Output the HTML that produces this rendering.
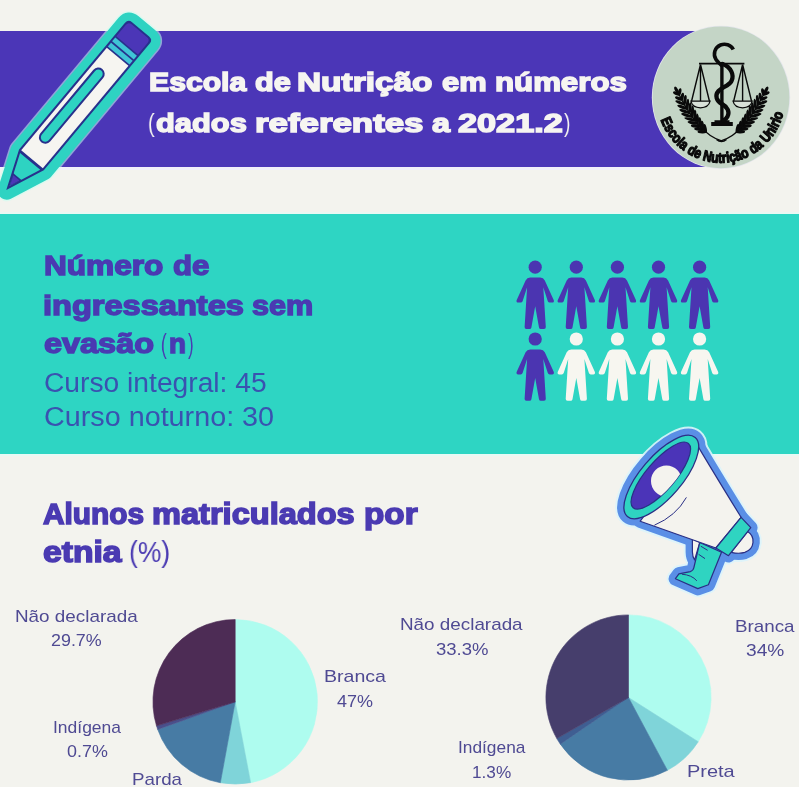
<!DOCTYPE html>
<html lang="pt">
<head>
<meta charset="utf-8">
<title>Escola de Nutrição em números</title>
<style>
html,body{margin:0;padding:0;}
body{width:799px;height:787px;overflow:hidden;background:#f3f3ee;font-family:"Liberation Sans",sans-serif;position:relative;}
.abs{position:absolute;}
#banner{left:0;top:31px;width:730px;height:136px;background:#4b36b7;}
#teal{left:0;top:214px;width:799px;height:240px;background:#2ed5c3;}
.t{position:absolute;white-space:nowrap;line-height:1;transform-origin:0 0;will-change:transform;}
.h{font-weight:bold;-webkit-text-stroke:1.5px currentColor;paint-order:stroke fill;}
.w{color:#f6f5f1;}
.p{color:#4a3ab2;}
.l{color:#4f4a93;}
.thin{font-weight:normal;}
.c{color:#3a52b0;}
svg{position:absolute;left:0;top:0;will-change:transform;}
</style>
</head>
<body>
<div id="banner" class="abs"></div>
<div id="teal" class="abs"></div>
<div class="abs" style="left:0;top:167px;width:652px;height:3px;background:#f1effa;"></div>
<div class="abs" style="left:0;top:212px;width:799px;height:2px;background:#eaf8f3;"></div>
<div class="abs" style="left:0;top:454px;width:799px;height:2px;background:#e7f9f4;"></div>

<svg id="art" width="799" height="787" viewBox="0 0 799 787">
<!--PIES-->
<g id="pies">
<path d="M235.2,701.8 L235.20,619.50 A82.3,82.3 0 0 1 250.62,782.64 Z" fill="#aefcef" stroke="#aefcef" stroke-width="0.6"/>
<path d="M235.2,701.8 L250.62,782.64 A82.3,82.3 0 0 1 220.34,782.75 Z" fill="#7fd4d9" stroke="#7fd4d9" stroke-width="0.6"/>
<path d="M235.2,701.8 L220.34,782.75 A82.3,82.3 0 0 1 157.67,729.41 Z" fill="#477ba4" stroke="#477ba4" stroke-width="0.6"/>
<path d="M235.2,701.8 L157.67,729.41 A82.3,82.3 0 0 1 156.50,725.86 Z" fill="#4a4f8a" stroke="#4a4f8a" stroke-width="0.6"/>
<path d="M235.2,701.8 L156.50,725.86 A82.3,82.3 0 0 1 235.20,619.50 Z" fill="#4d2c55" stroke="#4d2c55" stroke-width="0.6"/>
<path d="M628.5,697.5 L628.50,614.90 A82.6,82.6 0 0 1 698.24,741.76 Z" fill="#aefcef" stroke="#aefcef" stroke-width="0.6"/>
<path d="M628.5,697.5 L698.24,741.76 A82.6,82.6 0 0 1 667.41,770.36 Z" fill="#7fd4d9" stroke="#7fd4d9" stroke-width="0.6"/>
<path d="M628.5,697.5 L667.41,770.36 A82.6,82.6 0 0 1 560.35,744.17 Z" fill="#477ba4" stroke="#477ba4" stroke-width="0.6"/>
<path d="M628.5,697.5 L560.35,744.17 A82.6,82.6 0 0 1 556.82,738.55 Z" fill="#3f5e92" stroke="#3f5e92" stroke-width="0.6"/>
<path d="M628.5,697.5 L556.82,738.55 A82.6,82.6 0 0 1 628.50,614.90 Z" fill="#463e6c" stroke="#463e6c" stroke-width="0.6"/>
</g>
<g id="people">
<defs><g id="pp"><circle cx="0" cy="0" r="6.6"/><path d="M-5,10.4 Q-8.2,10.4 -9.6,13.2 L-18.6,33 Q-19.2,35.4 -17,35.4 L-14.4,35.4 Q-13.2,35.4 -12.6,34 L-8.1,20 L-10.6,59.8 Q-10.7,61.8 -8.8,61.8 L-5.6,61.8 Q-4.1,61.8 -3.8,60.2 L0,39 L3.8,60.2 Q4.1,61.8 5.6,61.8 L8.8,61.8 Q10.7,61.8 10.6,59.8 L8.1,20 L12.6,34 Q13.2,35.4 14.4,35.4 L17,35.4 Q19.2,35.4 18.6,33 L9.6,13.2 Q8.2,10.4 5,10.4 Z"/></g></defs>
<use href="#pp" x="535.2" y="267.2" fill="#4b35b1"/>
<use href="#pp" x="576.3" y="267.2" fill="#4b35b1"/>
<use href="#pp" x="617.4" y="267.2" fill="#4b35b1"/>
<use href="#pp" x="658.5" y="267.2" fill="#4b35b1"/>
<use href="#pp" x="699.6" y="267.2" fill="#4b35b1"/>
<use href="#pp" x="535.2" y="339.0" fill="#4b35b1"/>
<use href="#pp" x="576.3" y="339.0" fill="#f7f6f0"/>
<use href="#pp" x="617.4" y="339.0" fill="#f7f6f0"/>
<use href="#pp" x="658.5" y="339.0" fill="#f7f6f0"/>
<use href="#pp" x="699.6" y="339.0" fill="#f7f6f0"/>
</g>
<!--/PIES-->
<!--LOGO-->
<ellipse cx="721.0" cy="97.3" rx="69.2" ry="71.6" fill="#e4e6ec"/>
<ellipse cx="721.0" cy="97.3" rx="68.4" ry="70.9" fill="#c4d5c6"/>
<path d="M699,63.6 H744.4" stroke="#0a0a0a" stroke-width="1.8" fill="none"/>
<path d="M721.9,62 V122" stroke="#0a0a0a" stroke-width="3.4" fill="none"/>
<path d="M714.5,120.3 H729.5 V122 H732.8 V125.9 H711.2 V122 H714.5 Z" fill="#0a0a0a"/>
<path d="M733.3,49.6 C731,44.5 725,43.2 720.5,45 C714.5,47.5 712.8,54.5 716,59.5 C717.5,62 720,63.5 721.8,66" stroke="#0a0a0a" stroke-width="3.6" fill="none" stroke-linecap="butt"/>
<path d="M722.5,64 C731,67 734.5,75 731.5,81 C729,86 722,87 718.5,91 C714.5,95.5 716.5,101 722,104 C727.5,107 730,112 727.5,116.5 C726.5,118.5 724.8,119.8 723.5,120.5" stroke="#0a0a0a" stroke-width="4.3" fill="none" stroke-linecap="round"/>
<path d="M700.5,64.5 L691.6,101 M700.5,64.5 L709.4,101 M700.5,64.5 V101" stroke="#0a0a0a" stroke-width="1.4" fill="none"/>
<path d="M690.9,101.2 H710.1 C709.0,105.8 705.0,107.8 700.5,107.8 C696.0,107.8 692.0,105.8 690.9,101.2 Z" fill="#d9e2d9" stroke="#0a0a0a" stroke-width="1.2"/>
<path d="M742.6,64.5 L733.7,101 M742.6,64.5 L751.5,101 M742.6,64.5 V101" stroke="#0a0a0a" stroke-width="1.4" fill="none"/>
<path d="M733.0,101.2 H752.2 C751.1,105.8 747.1,107.8 742.6,107.8 C738.1,107.8 734.1,105.8 733.0,101.2 Z" fill="#d9e2d9" stroke="#0a0a0a" stroke-width="1.2"/>
<g id="laurelL"><path d="M721.6,140.9 Q698,134 677.5,91.5" stroke="#0a0a0a" stroke-width="1.3" fill="none"/>
<ellipse cx="702.20" cy="131.95" rx="4.64" ry="1.6" transform="rotate(-177.9 702.20 131.95)" fill="#0a0a0a"/>
<ellipse cx="705.15" cy="128.46" rx="4.64" ry="1.6" transform="rotate(-101.9 705.15 128.46)" fill="#0a0a0a"/>
<ellipse cx="699.15" cy="129.22" rx="4.99" ry="1.6" transform="rotate(-174.5 699.15 129.22)" fill="#0a0a0a"/>
<ellipse cx="702.54" cy="125.65" rx="4.99" ry="1.6" transform="rotate(-98.5 702.54 125.65)" fill="#0a0a0a"/>
<ellipse cx="696.14" cy="126.19" rx="5.34" ry="1.6" transform="rotate(-171.4 696.14 126.19)" fill="#0a0a0a"/>
<ellipse cx="699.96" cy="122.58" rx="5.34" ry="1.6" transform="rotate(-95.4 699.96 122.58)" fill="#0a0a0a"/>
<ellipse cx="693.16" cy="122.89" rx="5.70" ry="1.6" transform="rotate(-168.6 693.16 122.89)" fill="#0a0a0a"/>
<ellipse cx="697.42" cy="119.24" rx="5.70" ry="1.6" transform="rotate(-92.6 697.42 119.24)" fill="#0a0a0a"/>
<ellipse cx="690.22" cy="119.31" rx="6.05" ry="1.6" transform="rotate(-166.0 690.22 119.31)" fill="#0a0a0a"/>
<ellipse cx="694.91" cy="115.64" rx="6.05" ry="1.6" transform="rotate(-90.0 694.91 115.64)" fill="#0a0a0a"/>
<ellipse cx="687.32" cy="115.45" rx="6.40" ry="1.6" transform="rotate(-163.7 687.32 115.45)" fill="#0a0a0a"/>
<ellipse cx="692.44" cy="111.77" rx="6.40" ry="1.6" transform="rotate(-87.7 692.44 111.77)" fill="#0a0a0a"/>
<ellipse cx="684.98" cy="111.50" rx="6.05" ry="1.6" transform="rotate(-161.6 684.98 111.50)" fill="#0a0a0a"/>
<ellipse cx="689.94" cy="108.20" rx="6.05" ry="1.6" transform="rotate(-85.6 689.94 108.20)" fill="#0a0a0a"/>
<ellipse cx="682.65" cy="107.30" rx="5.70" ry="1.6" transform="rotate(-159.6 682.65 107.30)" fill="#0a0a0a"/>
<ellipse cx="687.43" cy="104.36" rx="5.70" ry="1.6" transform="rotate(-83.6 687.43 104.36)" fill="#0a0a0a"/>
<ellipse cx="680.35" cy="102.87" rx="5.34" ry="1.6" transform="rotate(-157.8 680.35 102.87)" fill="#0a0a0a"/>
<ellipse cx="684.92" cy="100.25" rx="5.34" ry="1.6" transform="rotate(-81.8 684.92 100.25)" fill="#0a0a0a"/>
<ellipse cx="678.79" cy="98.51" rx="3.99" ry="1.6" transform="rotate(-156.2 678.79 98.51)" fill="#0a0a0a"/>
<ellipse cx="682.26" cy="96.65" rx="3.99" ry="1.6" transform="rotate(-80.2 682.26 96.65)" fill="#0a0a0a"/>
<ellipse cx="676.46" cy="93.57" rx="3.71" ry="1.6" transform="rotate(-154.7 676.46 93.57)" fill="#0a0a0a"/>
<ellipse cx="679.73" cy="91.93" rx="3.71" ry="1.6" transform="rotate(-78.7 679.73 91.93)" fill="#0a0a0a"/>
<ellipse cx="676.6" cy="90.2" rx="4" ry="1.6" transform="rotate(62 676.6 90.2)" fill="#0a0a0a"/></g>
<use href="#laurelL" transform="translate(1442.6 0) scale(-1 1)"/>
<path d="M716.5,139.5 Q721.5,143.5 726.5,139.5" stroke="#0a0a0a" stroke-width="1.6" fill="none"/>
<g font-family="Liberation Sans, sans-serif" font-weight="bold" font-size="14.6" fill="#0a0a0a" stroke="#0a0a0a" stroke-width="1.25" stroke-linejoin="round"><text transform="translate(662.16 123.49) rotate(66.4) scale(0.823 1)" text-anchor="middle">E</text><text transform="translate(665.48 130.18) rotate(59.9) scale(0.823 1)" text-anchor="middle">s</text><text transform="translate(669.13 135.88) rotate(53.9) scale(0.823 1)" text-anchor="middle">c</text><text transform="translate(673.56 141.42) rotate(47.6) scale(0.823 1)" text-anchor="middle">o</text><text transform="translate(677.32 145.29) rotate(42.9) scale(0.823 1)" text-anchor="middle">l</text><text transform="translate(681.12 148.61) rotate(38.4) scale(0.823 1)" text-anchor="middle">a</text><text transform="translate(689.71 154.48) rotate(29.2) scale(0.823 1)" text-anchor="middle">d</text><text transform="translate(696.01 157.62) rotate(22.9) scale(0.823 1)" text-anchor="middle">e</text><text transform="translate(706.47 161.09) rotate(13.1) scale(0.823 1)" text-anchor="middle">N</text><text transform="translate(714.37 162.43) rotate(5.9) scale(0.823 1)" text-anchor="middle">u</text><text transform="translate(720.03 162.78) rotate(0.9) scale(0.823 1)" text-anchor="middle">t</text><text transform="translate(724.36 162.69) rotate(-3.0) scale(0.823 1)" text-anchor="middle">r</text><text transform="translate(728.36 162.35) rotate(-6.6) scale(0.823 1)" text-anchor="middle">i</text><text transform="translate(733.31 161.57) rotate(-11.1) scale(0.823 1)" text-anchor="middle">ç</text><text transform="translate(739.79 159.92) rotate(-17.0) scale(0.823 1)" text-anchor="middle">ã</text><text transform="translate(746.37 157.46) rotate(-23.3) scale(0.823 1)" text-anchor="middle">o</text><text transform="translate(755.78 152.34) rotate(-32.8) scale(0.823 1)" text-anchor="middle">d</text><text transform="translate(761.45 148.15) rotate(-39.1) scale(0.823 1)" text-anchor="middle">a</text><text transform="translate(769.37 140.35) rotate(-48.9) scale(0.823 1)" text-anchor="middle">U</text><text transform="translate(774.25 133.88) rotate(-56.0) scale(0.823 1)" text-anchor="middle">n</text><text transform="translate(777.05 129.24) rotate(-60.8) scale(0.823 1)" text-anchor="middle">i</text><text transform="translate(778.89 125.61) rotate(-64.4) scale(0.823 1)" text-anchor="middle">r</text><text transform="translate(780.51 121.87) rotate(-68.0) scale(0.823 1)" text-anchor="middle">i</text><text transform="translate(782.30 116.75) rotate(-72.7) scale(0.823 1)" text-anchor="middle">o</text></g>
<!--/LOGO-->
<!--PENCIL-->
<g transform="translate(140.6 29.3) rotate(39.9)">
<g transform="translate(0.8 0.3)">
<path d="M-11.100000000000001,0 H11.100000000000001 Q16.1,0 16.1,5 V170.2 L0,209.4 L-16.1,170.2 V5 Q-16.1,0 -11.100000000000001,0 Z" fill="#c8fff2" stroke="#c8fff2" stroke-opacity="0.55" stroke-width="21" stroke-linejoin="round"/>
<path d="M-11.100000000000001,0 H11.100000000000001 Q16.1,0 16.1,5 V170.2 L0,209.4 L-16.1,170.2 V5 Q-16.1,0 -11.100000000000001,0 Z" fill="#2ed3c2" stroke="#2ed3c2" stroke-width="18" stroke-linejoin="round"/>
</g>
<path d="M-11.100000000000001,0 H11.100000000000001 Q16.1,0 16.1,5 V170.2 L0,209.4 L-16.1,170.2 V5 Q-16.1,0 -11.100000000000001,0 Z" fill="#27318c"/>
<path d="M-10.100000000000001,2.0 H10.100000000000001 Q14.100000000000001,2.0 14.100000000000001,6.0 V21 H-14.100000000000001 V6.0 Q-14.100000000000001,2.0 -10.100000000000001,2.0 Z" fill="#4b36b7"/>
<rect x="-14.100000000000001" y="22.6" width="28.200000000000003" height="4.9" fill="#3fc4d6"/>
<rect x="-14.100000000000001" y="29.2" width="28.200000000000003" height="4.9" fill="#3fc4d6"/>
<rect x="-14.100000000000001" y="35.8" width="28.200000000000003" height="133.49999999999997" fill="#f6f5f1"/>
<rect x="-10.2" y="55" width="12.8" height="95.5" rx="6.4" fill="#27318c"/>
<rect x="-8.2" y="57" width="8.8" height="91.5" rx="4.4" fill="#2ed3c2"/>
<path d="M-13.12,172.20 H13.12 L0,204.14 Z" fill="#2ed3c2"/>
<path d="M-5.71,192.04 H5.71 L0,204.14 Z" fill="#27318c"/>
<path d="M-4.01,193.64 H4.01 L0,203.54 Z" fill="#4b36b7"/>
</g>
<!--/PENCIL-->
<!--MEGA-->
<defs><clipPath id="mclip"><ellipse cx="660.8" cy="475.6" rx="42.4" ry="14.4" transform="rotate(-49.3 660.8 475.6)" /></clipPath></defs>
<g fill="#dcf4fb" stroke="#dcf4fb" stroke-width="17.5" stroke-linejoin="round" opacity="0.9">
<path d="M697.0,444.6 Q712,470 741.1,517.3 L715.9,548 L640.2,521.2 Z"/>
<path d="M741.1,517.3 L750.8,527.7 L728.5,555.7 L715.9,548 Z"/>
<path d="M747.6,531.6 C755.5,536.5 755,549 744.8,552.4 C740,553.8 735,553.2 731.2,552.3 Z"/>
<path d="M699.8,542.4 L721.5,552.2 L708.4,584.8 L697.8,588.6 L675.4,578.7 L678.9,573.9 L690.3,571.6 Q693.4,570.6 693.9,567.5 Z"/>
<path d="M692.4,538.9 L699.8,542.4 L694.6,560 Q692.5,557 692.4,552 Z"/>
<ellipse cx="661.3" cy="477.0" rx="52.0" ry="20.6" transform="rotate(-49.3 661.3 477.0)" />
</g>
<g fill="#5a8fe6" stroke="#5a8fe6" stroke-width="13.6" stroke-linejoin="round" opacity="1">
<path d="M697.0,444.6 Q712,470 741.1,517.3 L715.9,548 L640.2,521.2 Z"/>
<path d="M741.1,517.3 L750.8,527.7 L728.5,555.7 L715.9,548 Z"/>
<path d="M747.6,531.6 C755.5,536.5 755,549 744.8,552.4 C740,553.8 735,553.2 731.2,552.3 Z"/>
<path d="M699.8,542.4 L721.5,552.2 L708.4,584.8 L697.8,588.6 L675.4,578.7 L678.9,573.9 L690.3,571.6 Q693.4,570.6 693.9,567.5 Z"/>
<path d="M692.4,538.9 L699.8,542.4 L694.6,560 Q692.5,557 692.4,552 Z"/>
<ellipse cx="661.3" cy="477.0" rx="52.0" ry="20.6" transform="rotate(-49.3 661.3 477.0)" />
</g>
<path d="M747.6,531.6 C755.5,536.5 755,549 744.8,552.4 C740,553.8 735,553.2 731.2,552.3 Z" fill="#f4f3ee" stroke="#2a2f85" stroke-width="1.2" stroke-linejoin="round"/>
<path d="M692.4,538.9 L699.8,542.4 L694.6,560 Q692.5,557 692.4,552 Z" fill="#f4f3ee" stroke="#2a2f85" stroke-width="1.2" stroke-linejoin="round"/>
<path d="M699.8,542.4 L721.5,552.2 L708.4,584.8 L697.8,588.6 L675.4,578.7 L678.9,573.9 L690.3,571.6 Q693.4,570.6 693.9,567.5 Z" fill="#2fd4c1" stroke="#2a2f85" stroke-width="1.2" stroke-linejoin="round"/>
<path d="M700.8,546.2 L707.6,550.3 M698.6,554.3 L705,558.6 M681.8,574.2 Q692,575 696.8,580.8" fill="none" stroke="#2a2f85" stroke-width="1"/>
<path d="M697.0,444.6 Q712,470 741.1,517.3 L715.9,548 L640.2,521.2 Z" fill="#f4f3ee" stroke="#2a2f85" stroke-width="1.2" stroke-linejoin="round"/>
<path d="M686.4,497.4 Q676,516 654.4,525.2" fill="none" stroke="#2a2f85" stroke-width="1"/>
<path d="M741.1,517.3 L750.8,527.7 L728.5,555.7 L715.9,548 Z" fill="#2fd4c1" stroke="#2a2f85" stroke-width="1.2" stroke-linejoin="round"/>
<ellipse cx="661.3" cy="477.0" rx="52.0" ry="20.6" transform="rotate(-49.3 661.3 477.0)" fill="#2fd4c1" stroke="#2a2f85" stroke-width="1.3"/>
<ellipse cx="660.8" cy="475.6" rx="42.4" ry="14.4" transform="rotate(-49.3 660.8 475.6)" fill="#4b34b8" stroke="#2a2f85" stroke-width="1.2"/>
<circle cx="666.4" cy="481.0" r="15.4" fill="#f4f3ee" clip-path="url(#mclip)"/>
<!--/MEGA-->
</svg>

<!--TS-->
<div class="t h w" id="t1_0" style="left:149.1px;top:69.4px;font-size:26.6px;transform:scaleX(1.1347);">Escola</div>
<div class="t h w" id="t1_1" style="left:254.5px;top:69.4px;font-size:26.6px;transform:scaleX(1.1531);">de</div>
<div class="t h w" id="t1_2" style="left:297.2px;top:69.4px;font-size:26.6px;transform:scaleX(1.2561);">Nutrição</div>
<div class="t h w" id="t1_3" style="left:441.8px;top:69.4px;font-size:26.6px;transform:scaleX(1.1603);">em</div>
<div class="t h w" id="t1_4" style="left:494.5px;top:69.4px;font-size:26.6px;transform:scaleX(1.1735);">números</div>
<div class="t w thin" id="t2_0" style="left:148.1px;top:109.8px;font-size:26.6px;transform:scaleX(0.7337);">(</div>
<div class="t h w" id="t2_1" style="left:155.6px;top:109.8px;font-size:26.6px;transform:scaleX(1.1592);">dados</div>
<div class="t h w" id="t2_2" style="left:254.5px;top:109.8px;font-size:26.6px;transform:scaleX(1.3102);">referentes</div>
<div class="t h w" id="t2_3" style="left:432.0px;top:109.8px;font-size:26.6px;transform:scaleX(1.2165);">a</div>
<div class="t h w" id="t2_4" style="left:458.1px;top:109.8px;font-size:26.6px;transform:scaleX(1.2884);">2021.2</div>
<div class="t w thin" id="t2_5" style="left:563.9px;top:109.8px;font-size:26.6px;transform:scaleX(0.7337);">)</div>
<div class="t h p" id="n1_0" style="left:43.9px;top:252.2px;font-size:28px;transform:scaleX(1.1286);">Número</div>
<div class="t h p" id="n1_1" style="left:172.7px;top:252.2px;font-size:28px;transform:scaleX(1.1136);">de</div>
<div class="t h p" id="n2_0" style="left:43.1px;top:291.6px;font-size:28px;transform:scaleX(1.1630);">ingressantes</div>
<div class="t h p" id="n2_1" style="left:252.3px;top:291.6px;font-size:28px;transform:scaleX(1.0919);">sem</div>
<div class="t h p" id="n3_0" style="left:43.9px;top:330.2px;font-size:28px;transform:scaleX(1.1583);">evasão</div>
<div class="t p thin" id="n3_1" style="left:161.4px;top:330.2px;font-size:28px;transform:scaleX(0.6111);">(</div>
<div class="t h p" id="n3_2" style="left:168.9px;top:330.2px;font-size:28px;transform:scaleX(0.9878);">n</div>
<div class="t p thin" id="n3_3" style="left:187.7px;top:330.2px;font-size:28px;transform:scaleX(0.6003);">)</div>
<div class="t h p" id="a1_0" style="left:42.5px;top:499.7px;font-size:29.2px;transform:scaleX(1.0220);">Alunos</div>
<div class="t h p" id="a1_1" style="left:151.7px;top:499.7px;font-size:29.2px;transform:scaleX(1.1157);">matriculados</div>
<div class="t h p" id="a1_2" style="left:364.4px;top:499.7px;font-size:29.2px;transform:scaleX(1.1397);">por</div>
<div class="t h p" id="a2_0" style="left:42.5px;top:538.1px;font-size:29.2px;transform:scaleX(1.1538);">etnia</div>
<div class="t p thin" id="a2_1" style="left:129.1px;top:538.1px;font-size:29.2px;transform:scaleX(0.9052);">(%)</div>
<div class="t p c" id="c1" style="left:43.9px;top:369.8px;font-size:27px;transform:scaleX(1.0449);">Curso integral: 45</div>
<div class="t p c" id="c2" style="left:43.9px;top:403.6px;font-size:27px;transform:scaleX(1.0646);">Curso noturno: 30</div>
<div class="t l" id="l1" style="left:15.0px;top:608.1px;font-size:17px;transform:scaleX(1.1096);">Não declarada</div>
<div class="t l" id="l2" style="left:51.3px;top:631.9px;font-size:17px;transform:scaleX(1.0518);">29.7%</div>
<div class="t l" id="l3" style="left:53.0px;top:718.8px;font-size:17px;transform:scaleX(1.0274);">Indígena</div>
<div class="t l" id="l4" style="left:66.8px;top:743.3px;font-size:17px;transform:scaleX(1.0529);">0.7%</div>
<div class="t l" id="l5" style="left:132.0px;top:770.8px;font-size:17px;transform:scaleX(1.1019);">Parda</div>
<div class="t l" id="l6" style="left:324.0px;top:668.3px;font-size:17px;transform:scaleX(1.1508);">Branca</div>
<div class="t l" id="l7" style="left:337.0px;top:693.4px;font-size:17px;transform:scaleX(1.0579);">47%</div>
<div class="t l" id="r1" style="left:400.0px;top:616.0px;font-size:17px;transform:scaleX(1.1087);">Não declarada</div>
<div class="t l" id="r2" style="left:436.0px;top:640.6px;font-size:17px;transform:scaleX(1.0891);">33.3%</div>
<div class="t l" id="r3" style="left:457.6px;top:739.2px;font-size:17px;transform:scaleX(1.0183);">Indígena</div>
<div class="t l" id="r4" style="left:471.8px;top:764.4px;font-size:17px;transform:scaleX(1.0116);">1.3%</div>
<div class="t l" id="r5" style="left:734.5px;top:617.6px;font-size:17px;transform:scaleX(1.1044);">Branca</div>
<div class="t l" id="r6" style="left:745.5px;top:642.2px;font-size:17px;transform:scaleX(1.1254);">34%</div>
<div class="t l" id="r7" style="left:686.8px;top:762.6px;font-size:17px;transform:scaleX(1.1737);">Preta</div>
<!--TE-->
</body>
</html>
